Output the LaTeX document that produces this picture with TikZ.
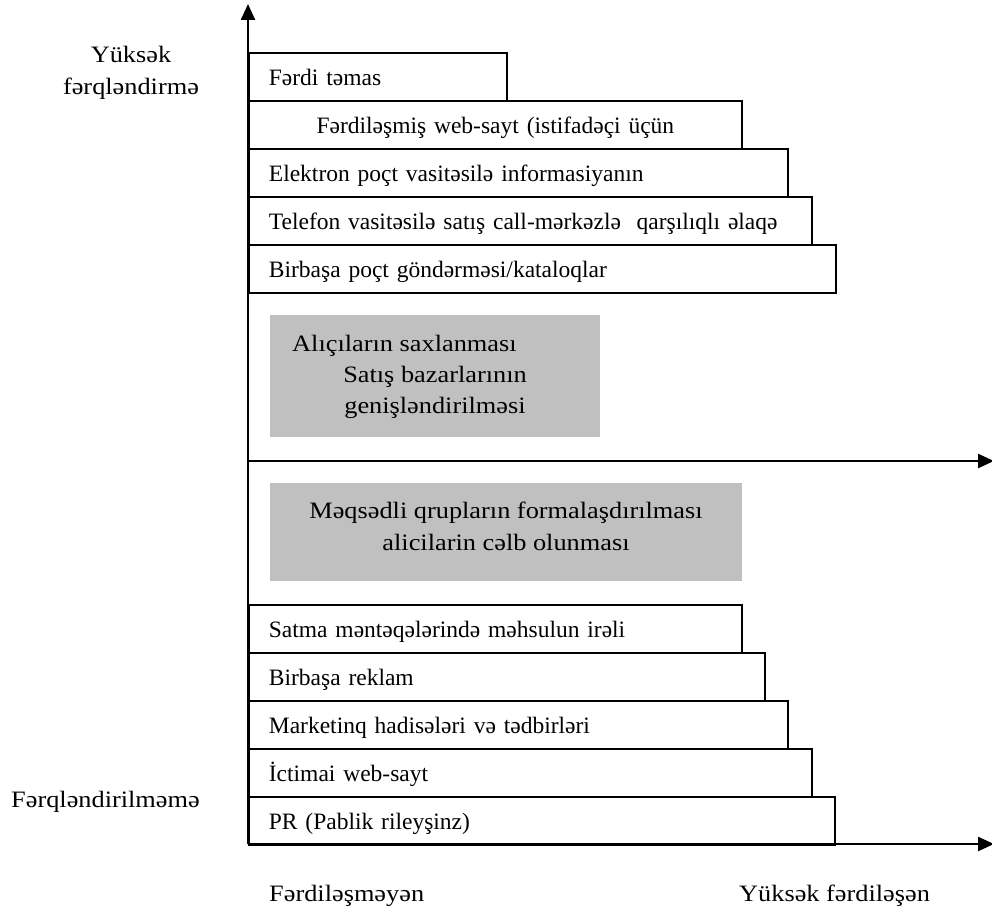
\documentclass[tikz,border=0pt]{standalone}
\usepackage{fontspec}
\setmainfont{Liberation Serif}
\newfontfamily\widefont[FakeStretch=1.12]{Liberation Serif}
\usetikzlibrary{arrows.meta}
\definecolor{boxgray}{RGB}{192,192,192}
\tikzset{
  axisline/.style={line width=2.4pt, -{Triangle[length=16pt,width=14pt]}},
  barbox/.style={draw, line width=1.8pt, rectangle, anchor=north west,
    minimum height=48pt, inner ysep=0pt, inner xsep=20pt,
    text height=22pt, text depth=4pt, align=left},
  graybox/.style={fill=boxgray, draw=none, rectangle, anchor=north west, inner sep=0pt},
  lbl/.style={inner sep=0pt, anchor=base west},
  widelbl/.style={lbl, font=\widefont\fontsize{23.5}{31}\selectfont},
}
\begin{document}
\begin{tikzpicture}[x=1pt, y=-1pt, font=\fontsize{23.5}{31}\selectfont]
\useasboundingbox (0,0) rectangle (992,912);

% upper staircase (most personalised channels)
\node[barbox, text width=218pt] (b1) at (248,52) {Fərdi təmas};
\node[barbox, text width=453pt, align=center] (b2) at (248,100) {Fərdiləşmiş web-sayt (istifadəçi üçün};
\node[barbox, text width=499pt] (b3) at (248,148) {Elektron poçt vasitəsilə informasiyanın};
\node[barbox, text width=523pt] (b4) at (248,196) {Telefon vasitəsilə satış call-mərkəzlə\ \ qarşılıqlı əlaqə};
\node[barbox, text width=547pt] (b5) at (248,244) {Birbaşa poçt göndərməsi/kataloqlar};

% goals
\node[graybox, minimum width=330pt, minimum height=122pt] (g1) at (270,315) {};
\node[widelbl] (g1a) at (292,351) {Alıçıların saxlanması};
\node[widelbl, anchor=base] (g1b) at (435,382) {Satış bazarlarının};
\node[widelbl, anchor=base] (g1c) at (435,413) {genişləndirilməsi};

\node[graybox, minimum width=472pt, minimum height=98pt] (g2) at (270,483) {};
\node[widelbl, anchor=base] (g2a) at (506,518) {Məqsədli qrupların formalaşdırılması};
\node[widelbl, anchor=base] (g2b) at (506,550) {alicilarin cəlb olunması};

% lower staircase (mass channels)
\node[barbox, text width=453pt] (c1) at (248,604) {Satma məntəqələrində məhsulun irəli};
\node[barbox, text width=476pt] (c2) at (248,652) {Birbaşa reklam};
\node[barbox, text width=499pt] (c3) at (248,700) {Marketinq hadisələri və tədbirləri};
\node[barbox, text width=523pt] (c4) at (248,748) {İctimai web-sayt};
\node[barbox, text width=546pt] (c5) at (248,796) {PR (Pablik rileyşinz)};

% axes
\coordinate (o) at (248,844);
\coordinate (ytop) at (248,4);
\coordinate (mid) at (248,461);
\coordinate (midend) at (994,461);
\coordinate (xend) at (994,844);
\draw[axisline] (o) -- (ytop);
\draw[axisline] (mid) -- (midend);
\draw[axisline] (o) -- (xend);

% axis captions
\node[widelbl, anchor=base] (yhi1) at (131,63) {Yüksək};
\node[widelbl, anchor=base] (yhi2) at (131,95) {fərqləndirmə};
\node[widelbl] (ylo) at (11,807) {Fərqləndirilməmə};
\node[widelbl] (xlo) at (269,901) {Fərdiləşməyən};
\node[widelbl] (xhi) at (739,901) {Yüksək fərdiləşən};
\end{tikzpicture}
\end{document}
